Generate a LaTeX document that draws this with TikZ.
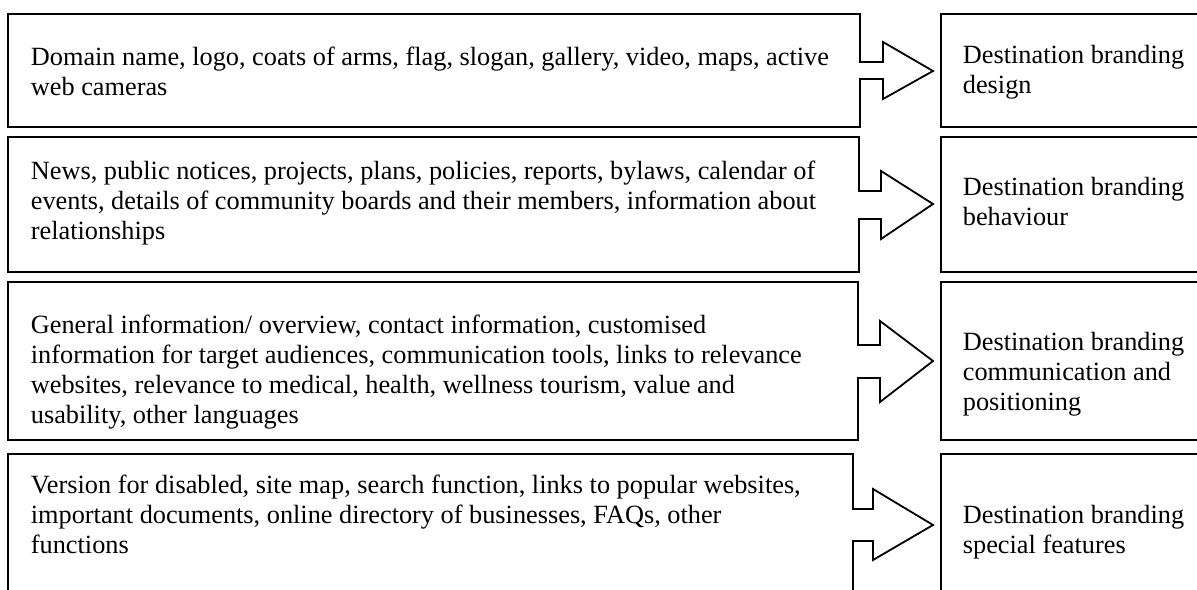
\documentclass[tikz,border=0pt]{standalone}
\usepackage{fontspec}
\setmainfont{Liberation Serif}

\begin{document}
\begin{tikzpicture}[x=0.5pt, y=-0.5pt, line width=0.9pt,
  every node/.style={font=\fontsize{13.15}{15}\selectfont, inner sep=0pt, align=left, anchor=base west}]
\useasboundingbox (0,0) rectangle (1197,589);
\clip (0,0) rectangle (1197,589);

% left boxes, each with its arrow
\draw (8,14) -- (860,14) -- (860,62) -- (883,62) -- (883,42) -- (933,71) -- (883,99) -- (883,79) -- (860,79) -- (860,127) -- (8,127) -- cycle;
\draw (8,137) -- (859,137) -- (859,191) -- (881,191) -- (881,171) -- (933,204) -- (881,239) -- (881,219) -- (859,219) -- (859,272) -- (8,272) -- cycle;
\draw (8,282) -- (858,282) -- (858,345) -- (880,345) -- (880,321) -- (933,361) -- (880,402) -- (880,378) -- (858,378) -- (858,440) -- (8,440) -- cycle;
\draw (8,454) -- (853,454) -- (853,509) -- (873,509) -- (873,489) -- (933,525) -- (873,560) -- (873,541) -- (853,541) -- (853,640) -- (8,640) -- cycle;

% right boxes
\draw (941,14) rectangle (1230,127);
\draw (941,137) rectangle (1230,272);
\draw (941,282) rectangle (1230,440);
\draw (941,454) rectangle (1230,640);

% texts (base = last line)
\node (dom) at (30,95) {Domain name, logo, coats of arms, flag, slogan, gallery, video, maps, active\\web cameras};
\node (news) at (30,239) {News, public notices, projects, plans, policies, reports, bylaws, calendar of\\events, details of community boards and their members, information about\\relationships};
\node (info) at (30,423) {General information/ overview, contact information, customised\\information for target audiences, communication tools, links to relevance\\websites, relevance to medical, health, wellness tourism, value and\\usability, other languages};
\node (vers) at (30,553) {Version for disabled, site map, search function, links to popular websites,\\important documents, online directory of businesses, FAQs, other\\functions};

\node (design) at (962,93) {Destination branding\\design};
\node (behav) at (962,225) {Destination branding\\behaviour};
\node (comm) at (962,410) {Destination branding\\communication and\\positioning};
\node (feat) at (962,553) {Destination branding\\special features};
\end{tikzpicture}
\end{document}
